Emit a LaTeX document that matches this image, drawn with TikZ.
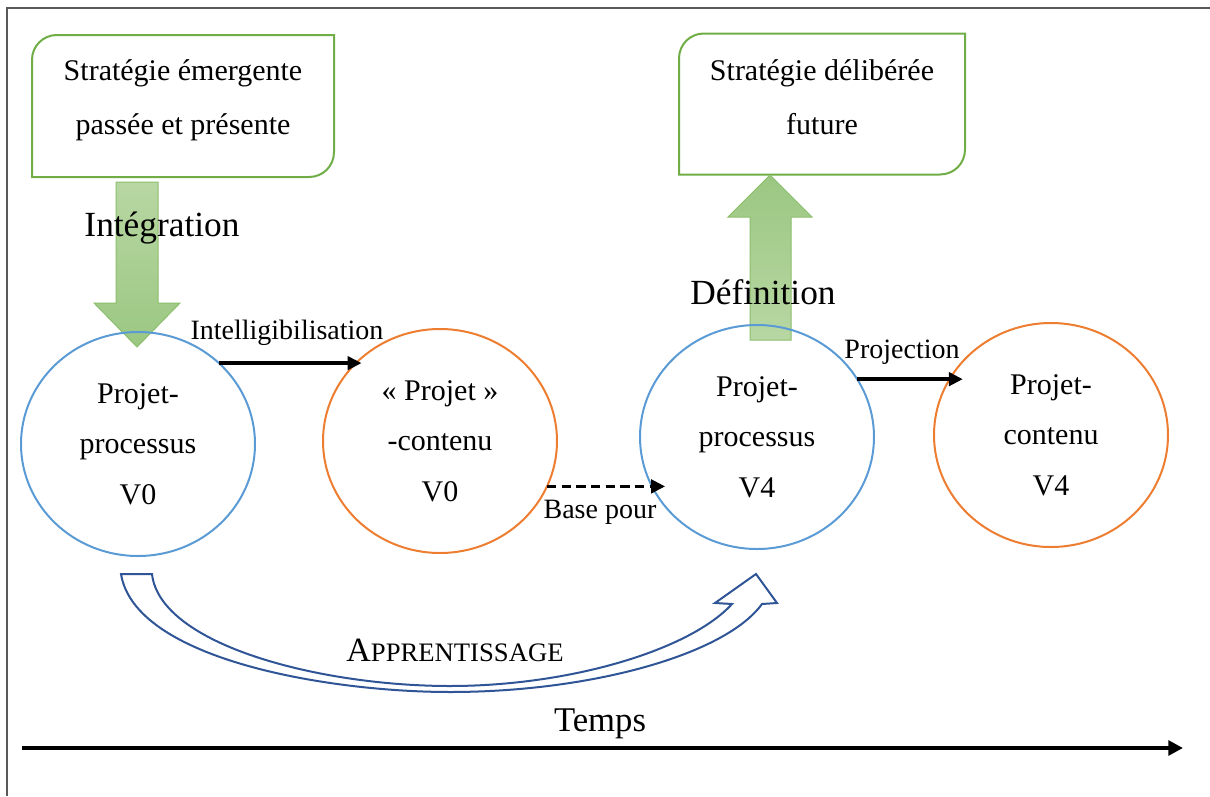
\documentclass[tikz,border=0pt]{standalone}
\usepackage{fontspec}
\setmainfont{Liberation Serif}
\usetikzlibrary{arrows.meta,calc,shapes.geometric}

\definecolor{boxgreen}{RGB}{112,173,71}
\definecolor{circblue}{RGB}{91,155,213}
\definecolor{circorange}{RGB}{237,125,49}
\definecolor{learnblue}{RGB}{47,85,151}
\definecolor{framegray}{RGB}{89,89,89}
\definecolor{palegreen}{RGB}{184,215,163}
\definecolor{deepgreen}{RGB}{155,199,130}
\definecolor{greenedge}{RGB}{140,191,108}

\tikzset{every picture/.style={line width=0.75pt}}
\tikzset{
  procnode/.style={ellipse, draw=circblue, line width=1.5pt, minimum width=175.5pt, minimum height=168pt,
    inner sep=0pt, outer sep=0pt, align=center, font=\fontsize{22.5}{38}\selectfont},
  contnode/.style={procnode, draw=circorange},
  stratbox/.style={minimum width=226.5pt, minimum height=106.5pt, inner sep=0pt, outer sep=0pt},
  strattext/.style={inner sep=0.75pt, align=center, font=\fontsize{22.5}{40.5}\selectfont},
  stratline/.style={draw=boxgreen, line width=1.5pt},
  blockarrow/.style={draw=greenedge, line width=0.75pt},
  flowlabel/.style={inner sep=0.75pt, font=\fontsize{21}{25}\selectfont},
  biglabel/.style={inner sep=0.75pt, font=\fontsize{26.5}{30}\selectfont},
  flowarrow/.style={line width=2.6pt, -{Triangle[length=10.5pt,width=10pt]}},
}

\begin{document}
\begin{tikzpicture}[x=0.75pt,y=0.75pt,yscale=-1,xscale=1]
\useasboundingbox (0,0) rectangle (1210,796);
%Frame: top and left edges
\draw [framegray, line width=1.5pt] (1210,8) -- (7,8) -- (7,796) ;

%Shape: Round Diagonal Corner Rectangle
\node (b1) at (183,106) [stratbox] {};
\draw [stratline] (b1.south west) -- ($(b1.north west)+(0,25)$) .. controls ($(b1.north west)+(0,11)$) and ($(b1.north west)+(11,0)$) .. ($(b1.north west)+(25,0)$) -- (b1.north east) -- ($(b1.south east)+(0,-25)$) .. controls ($(b1.south east)+(0,-11)$) and ($(b1.south east)+(-11,0)$) .. ($(b1.south east)+(-25,0)$) -- cycle ;
% Text Node
\node (b1txt) at (183,100) [strattext] {Stratégie émergente\\passée et présente};

%Shape: Round Diagonal Corner Rectangle
\node (b2) at (822,104) [stratbox, minimum width=214.5pt, minimum height=105.75pt] {};
\draw [stratline] (b2.south west) -- ($(b2.north west)+(0,25)$) .. controls ($(b2.north west)+(0,11)$) and ($(b2.north west)+(11,0)$) .. ($(b2.north west)+(25,0)$) -- (b2.north east) -- ($(b2.south east)+(0,-25)$) .. controls ($(b2.south east)+(0,-11)$) and ($(b2.south east)+(-11,0)$) .. ($(b2.south east)+(-25,0)$) -- cycle ;
% Text Node
\node (b2txt) at (822,97) [strattext] {Stratégie délibérée\\future};

%Shape: Down Arrow
\draw [blockarrow, top color=palegreen, bottom color=deepgreen] (116,182) -- (158,182) -- (158,303) -- (180,303) -- (137,347) -- (94,303) -- (116,303) -- cycle ;
%Shape: Up Arrow
\draw [blockarrow, top color=deepgreen, bottom color=palegreen] (750,340) -- (791,340) -- (791,217) -- (812,217) -- (770,175) -- (728,217) -- (750,217) -- cycle ;

% Text Node
\node (integ) at (162,228) [biglabel] {Intégration};
% Text Node
\node (defin) at (763,292) [biglabel] {Définition};

%Shape: Ellipse
\node (pp0) at (138,444) [procnode] {Projet-\\processus\\V0};
%Shape: Ellipse
\node (pc0) at (440,441) [contnode] {« Projet »\\-contenu\\V0};
%Shape: Ellipse
\node (pp4) at (757,437) [procnode] {Projet-\\processus\\V4};
%Shape: Ellipse
\node (pc4) at (1051,435) [contnode] {Projet-\\contenu\\V4};

%Straight Lines
\draw [flowarrow, shorten >=-4pt] (pp0.45) -- (pp0.45 -| pc0.137) ;
\draw [flowarrow, shorten >=-9pt] (pp4.30) -- (pp4.30 -| pc4.150) ;
\draw [flowarrow, dash pattern=on 7pt off 4pt, shorten >=-10pt] (pc0.-23) -- (pc0.-23 -| pp4.-155) ;
% Text Node
\node (intel) at (287,333) [flowlabel] {Intelligibilisation};
% Text Node
\node (proj) at (902,352) [flowlabel] {Projection};
% Text Node
\node (base) at (600,512) [flowlabel] {Base pour};

%Shape: Curved Up Arrow
\draw [learnblue, line width=1.5pt, fill=white, line join=miter] (121,574) .. controls (135,660) and (330,692) .. (450,692) .. controls (590,692) and (725,655) .. (762,604) -- (777,603) -- (756,574) -- (715,603) -- (732,604) .. controls (690,650) and (570,686) .. (450,686) .. controls (320,686) and (160,645) .. (152,574) -- cycle ;
% Text Node
\node (learn) at (455,650) [inner sep=0.75pt] {\fontsize{25.5}{30}\selectfont A\fontsize{20}{30}\selectfont PPRENTISSAGE};

% Text Node
\node (temps) at (600,724) [inner sep=0.75pt, font=\fontsize{26}{30}\selectfont] {Temps};
\coordinate (t0) at (22,748);
\coordinate (t1) at (1183,748);
\draw [line width=3.4pt, -{Triangle[length=11pt,width=11pt]}] (t0) -- (t1) ;
\end{tikzpicture}
\end{document}
